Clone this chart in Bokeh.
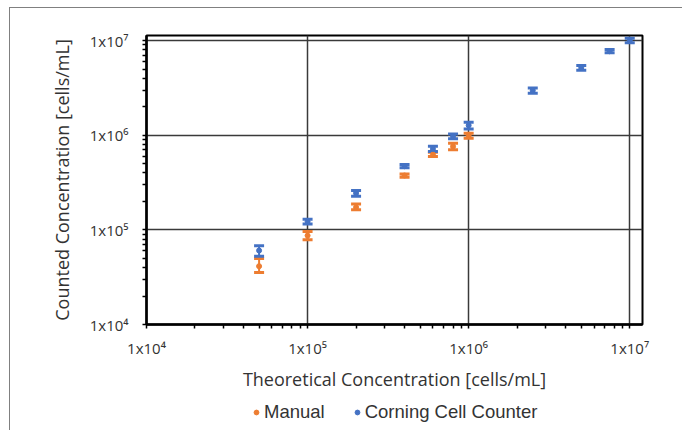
from bokeh.plotting import figure
from bokeh.layouts import column
from bokeh.models import (FixedTicker, Whisker, ColumnDataSource, Legend,
                          LegendItem, TeeHead)
from bokeh.embed import file_html
from bokeh.resources import INLINE

# ---- data ----
x_manual = [5e4, 1e5, 2e5, 4e5, 6e5, 8e5, 1e6]
manual = [4.13e4, 8.7e4, 1.73e5, 3.75e5, 6.25e5, 7.6e5, 9.9e5]
manual_lo = [3.54e4, 7.85e4, 1.63e5, 3.6e5, 5.96e5, 7.0e5, 9.3e5]
manual_hi = [4.97e4, 9.6e4, 1.87e5, 3.9e5, 6.6e5, 8.2e5, 1.05e6]

x_corning = [5e4, 1e5, 2e5, 4e5, 6e5, 8e5, 1e6, 2.5e6, 5e6, 7.5e6, 1e7]
corning = [6.05e4, 1.22e5, 2.44e5, 4.7e5, 7.18e5, 9.7e5, 1.27e6, 2.97e6, 5.14e6, 7.7e6, 1.0e7]
corning_lo = [5.26e4, 1.15e5, 2.27e5, 4.52e5, 6.72e5, 9.17e5, 1.16e6, 2.77e6, 4.85e6, 7.41e6, 9.45e6]
corning_hi = [6.8e4, 1.29e5, 2.6e5, 4.9e5, 7.65e5, 1.03e6, 1.37e6, 3.16e6, 5.44e6, 8.03e6, 1.06e7]

major_ticks = [1e4, 1e5, 1e6, 1e7]
tick_labels = ["1x10\u2074", "1x10\u2075", "1x10\u2076", "1x10\u2077"]
series_names = ["Manual", "Corning Cell Counter"]
x_title = "Theoretical Concentration [cells/mL]"
y_title = "Counted Concentration [cells/mL]"

ORANGE = "#ED7D31"
BLUE = "#4472C4"
TXT = "#333333"

p = figure(width=672, height=390, x_axis_type="log", y_axis_type="log",
           x_range=(1e4, 1.2e7), y_range=(1e4, 1.13e7),
           output_backend="svg", toolbar_location=None,
           min_border_left=136, min_border_right=40,
           min_border_top=27, min_border_bottom=74)
p.background_fill_color = "white"
p.border_fill_color = "white"
p.outline_line_color = "black"
p.outline_line_width = 2

minor = [m * 10 ** d for d in range(4, 7) for m in range(2, 10)]
for ax in (p.xaxis[0], p.yaxis[0]):
    ax.ticker = FixedTicker(ticks=major_ticks, minor_ticks=minor)
    ax.major_label_overrides = {t: l for t, l in zip(major_ticks, tick_labels)}
    ax.axis_line_color = "black"
    ax.axis_line_width = 2.5
    ax.major_tick_line_color = "black"
    ax.major_tick_line_width = 1.5
    ax.major_tick_out = 4
    ax.major_tick_in = 0
    ax.minor_tick_line_color = "black"
    ax.minor_tick_line_width = 1.5
    ax.minor_tick_out = 4
    ax.minor_tick_in = 0
    ax.major_label_text_font = "Open Sans"
    ax.major_label_text_font_size = "15px"
    ax.major_label_text_color = TXT
    ax.axis_label_text_font = "Open Sans"
    ax.axis_label_text_font_size = "18px"
    ax.axis_label_text_font_style = "normal"
    ax.axis_label_text_color = TXT

p.xaxis.axis_label = x_title
p.yaxis.axis_label = y_title
p.xaxis.major_label_standoff = 9
p.xaxis.axis_label_standoff = 6
p.yaxis.major_label_standoff = 14
p.yaxis.axis_label_standoff = 13

for g in (p.xgrid[0], p.ygrid[0]):
    g.ticker = FixedTicker(ticks=major_ticks)
    g.grid_line_color = "#3a3a3a"
    g.grid_line_width = 1.5

src_m = ColumnDataSource(dict(x=x_manual, y=manual, lo=manual_lo, hi=manual_hi))
src_c = ColumnDataSource(dict(x=x_corning, y=corning, lo=corning_lo, hi=corning_hi))

p.scatter("x", "y", source=src_m, size=5, color=ORANGE)
p.add_layout(Whisker(base="x", lower="lo", upper="hi", source=src_m,
                     line_color=ORANGE, line_width=2,
                     upper_head=TeeHead(size=10, line_color=ORANGE, line_width=3),
                     lower_head=TeeHead(size=10, line_color=ORANGE, line_width=3)))

p.scatter("x", "y", source=src_c, size=5, color=BLUE)
p.add_layout(Whisker(base="x", lower="lo", upper="hi", source=src_c,
                     line_color=BLUE, line_width=2,
                     upper_head=TeeHead(size=10, line_color=BLUE, line_width=3),
                     lower_head=TeeHead(size=10, line_color=BLUE, line_width=3)))

# legend strip below the chart (same marker styles as the series;
# the proxy points sit outside the strip's visible range)
q = figure(width=672, height=32, x_range=(0, 1), y_range=(0, 1),
           output_backend="svg", toolbar_location=None,
           min_border=0, outline_line_color=None)
q.axis.visible = False
q.grid.visible = False
q.border_fill_color = "white"
lm = q.scatter(x=[-5], y=[-5], size=5, color=ORANGE)
lc = q.scatter(x=[-5], y=[-5], size=5, color=BLUE)
legend = Legend(items=[LegendItem(label=series_names[0], renderers=[lm]),
                       LegendItem(label=series_names[1], renderers=[lc])],
                orientation="horizontal", location=(104, 7),
                glyph_width=12, glyph_height=20, label_standoff=2, spacing=26,
                border_line_color=None, background_fill_alpha=0,
                label_text_font="Liberation Sans", label_text_font_size="18.5px",
                label_text_color=TXT, padding=4, margin=0)
q.add_layout(legend)

page = column(p, q, spacing=0)
page.margin = (7, 0, 0, 9)
page.styles = {"border-top": "1px solid #808080", "border-left": "1px solid #808080"}

open("out.html", "w").write(file_html(page, INLINE))
